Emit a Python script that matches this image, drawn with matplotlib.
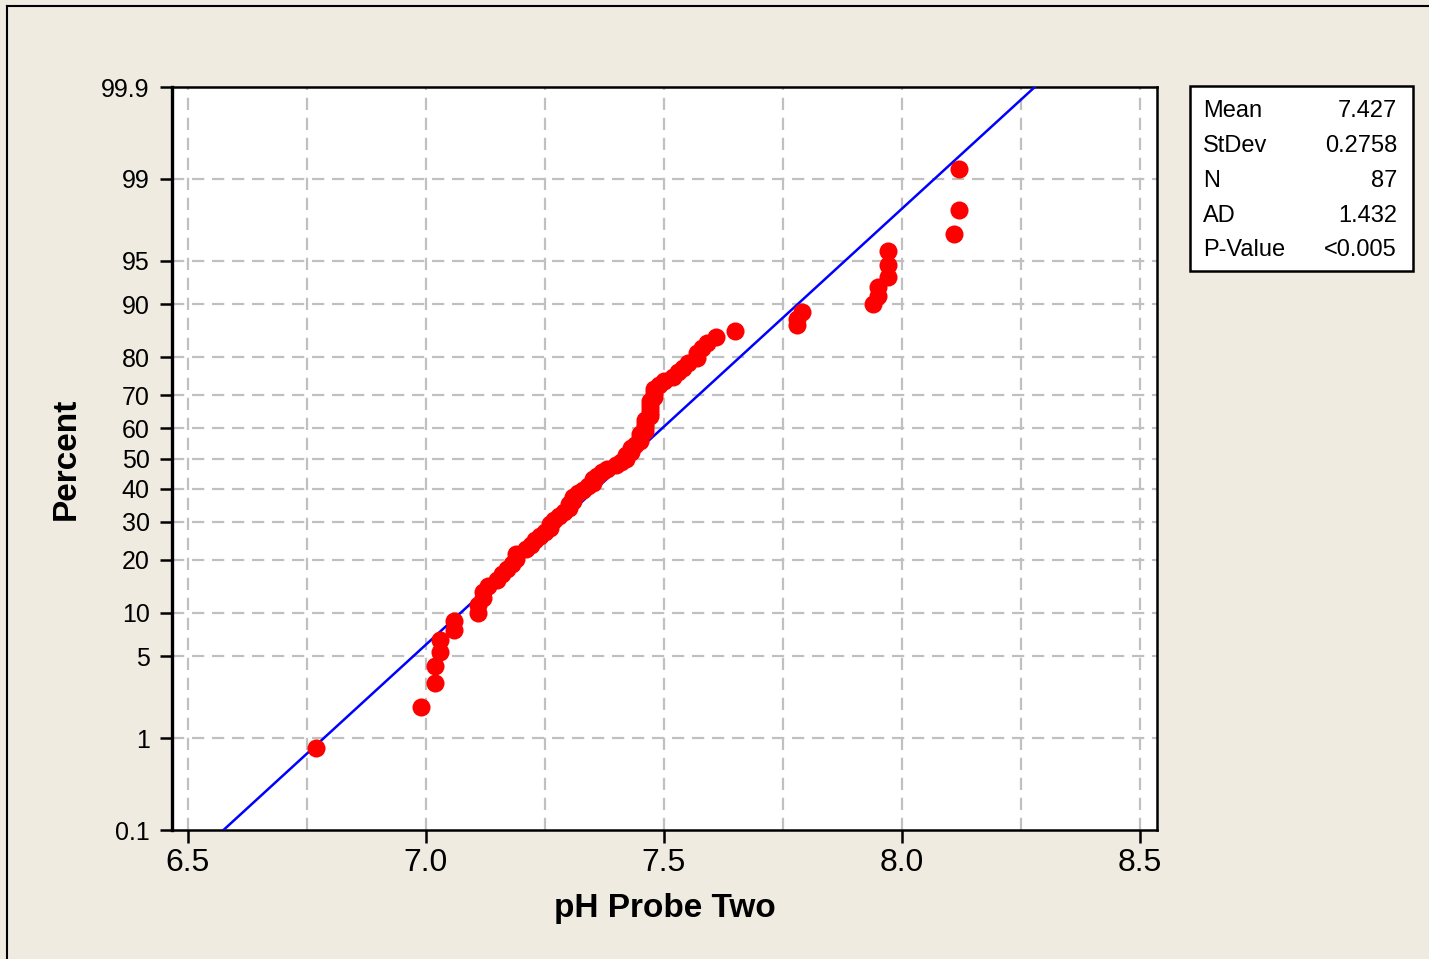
import math
import numpy as np
import matplotlib
matplotlib.use('Agg')
import matplotlib.pyplot as plt
from matplotlib.lines import Line2D
from matplotlib.patches import Rectangle

plt.rcParams['font.family'] = ['Liberation Sans', 'DejaVu Sans']

# pH readings (probe two), sorted
ph_values = [
    6.77, 6.99, 7.02, 7.02, 7.03, 7.03, 7.06, 7.06, 7.11, 7.11,
    7.12, 7.12, 7.13, 7.15, 7.16, 7.17, 7.18, 7.19, 7.19, 7.21,
    7.22, 7.23, 7.24, 7.25, 7.26, 7.26, 7.27, 7.28, 7.29, 7.30,
    7.30, 7.31, 7.31, 7.32, 7.33, 7.34, 7.35, 7.35, 7.36, 7.37,
    7.38, 7.40, 7.41, 7.42, 7.42, 7.43, 7.43, 7.44, 7.45, 7.45,
    7.45, 7.46, 7.46, 7.46, 7.46, 7.47, 7.47, 7.47, 7.47, 7.47,
    7.48, 7.48, 7.48, 7.49, 7.50, 7.52, 7.53, 7.54, 7.55, 7.57,
    7.57, 7.58, 7.59, 7.61, 7.65, 7.78, 7.78, 7.79, 7.94, 7.95,
    7.95, 7.97, 7.97, 7.97, 8.11, 8.12, 8.12,
]

fit_mean = 7.427
fit_sd = 0.2758

stat_names = ['Mean', 'StDev', 'N', 'AD', 'P-Value']
stat_values = ['7.427', '0.2758', '87', '1.432', '<0.005']

pct_ticks = [0.1, 1, 5, 10, 20, 30, 40, 50, 60, 70, 80, 90, 95, 99, 99.9]
pct_labels = ['0.1', '1', '5', '10', '20', '30', '40', '50', '60', '70', '80', '90', '95', '99', '99.9']
x_ticks = [6.5, 7.0, 7.5, 8.0, 8.5]
x_labels = ['6.5', '7.0', '7.5', '8.0', '8.5']


def norm_ppf(p):
    # Acklam's rational approximation of the inverse normal cdf
    p = np.clip(np.asarray(p, dtype=float), 1e-12, 1 - 1e-12)
    a = [-3.969683028665376e+01, 2.209460984245205e+02, -2.759285104469687e+02,
         1.383577518672690e+02, -3.066479806614716e+01, 2.506628277459239e+00]
    b = [-5.447609879822406e+01, 1.615858368580409e+02, -1.556989798598866e+02,
         6.680131188771972e+01, -1.328068155288572e+01]
    c = [-7.784894002430293e-03, -3.223964580411365e-01, -2.400758277161838e+00,
         -2.549732539343734e+00, 4.374664141464968e+00, 2.938163982698783e+00]
    d = [7.784695709041462e-03, 3.224671290700398e-01, 2.445134137142996e+00,
         3.754408661907416e+00]
    plow = 0.02425
    out = np.zeros_like(p)
    lo = p < plow
    hi = p > 1 - plow
    mid = ~(lo | hi)
    q = np.sqrt(-2 * np.log(p[lo]))
    out[lo] = (((((c[0]*q+c[1])*q+c[2])*q+c[3])*q+c[4])*q+c[5]) / \
              ((((d[0]*q+d[1])*q+d[2])*q+d[3])*q+1)
    q = p[mid] - 0.5
    r = q * q
    out[mid] = (((((a[0]*r+a[1])*r+a[2])*r+a[3])*r+a[4])*r+a[5])*q / \
               (((((b[0]*r+b[1])*r+b[2])*r+b[3])*r+b[4])*r+1)
    q = np.sqrt(-2 * np.log(1 - p[hi]))
    out[hi] = -(((((c[0]*q+c[1])*q+c[2])*q+c[3])*q+c[4])*q+c[5]) / \
               ((((d[0]*q+d[1])*q+d[2])*q+d[3])*q+1)
    return out


_erf = np.vectorize(math.erf)


def pct_to_z(pct):
    return norm_ppf(np.asarray(pct, dtype=float) / 100.0)


def z_to_pct(z):
    return 50.0 * (1 + _erf(np.asarray(z, dtype=float) / math.sqrt(2)))


n = len(ph_values)
ranks = np.arange(1, n + 1)
percents = (ranks - 0.3) / (n + 0.4) * 100   # median ranks

bg = '#EFEBE1'
fig = plt.figure(figsize=(14.29, 9.59), dpi=100, facecolor=bg)
ax = fig.add_axes([172/1429, 1 - 830/959, (1157-172)/1429, (830-87)/959])
ax.set_facecolor('white')
ax.set_yscale('function', functions=(pct_to_z, z_to_pct))

# fitted normal line
xx = np.linspace(6.4, 8.6, 400)
ax.plot(xx, z_to_pct((xx - fit_mean) / fit_sd), color='#0000FF', lw=1.8, zorder=3)

ax.plot(ph_values, percents, 'o', color='#FF0000', ms=13, mec='none', zorder=4)

ax.set_xlim(6.4665, 8.536)
ax.set_ylim(0.1, 99.9)

ax.set_yticks(pct_ticks)
ax.set_yticklabels(pct_labels)
ax.set_yticks([], minor=True)
ax.set_xticks(x_ticks)
ax.set_xticklabels(x_labels)

ax.tick_params(axis='y', which='major', direction='out', length=9, width=1.8,
               labelsize=18, pad=7)
ax.tick_params(axis='x', which='major', direction='out', length=9, width=1.8,
               labelsize=23, pad=4)

for v in np.arange(6.5, 8.51, 0.25):
    ax.axvline(v, color='#C0C0C0', lw=1.6, ls=(0, (5.5, 3.5)), zorder=1)
for p in pct_ticks[1:-1]:
    ax.axhline(p, color='#C0C0C0', lw=1.6, ls=(0, (5.5, 3.5)), zorder=1)

for s in ax.spines.values():
    s.set_linewidth(1.8)
    s.set_color('black')
ax.spines['left'].set_linewidth(2.4)

ax.set_xlabel('pH Probe Two', fontsize=24, fontweight='bold', labelpad=11)
ax.set_ylabel('Percent', fontsize=24, fontweight='bold', labelpad=14)

# stats box
fig.add_artist(Rectangle((1190/1429, 1 - 271/959), 223/1429, 185/959,
                         transform=fig.transFigure, facecolor='white',
                         edgecolor='black', lw=1.8))
row_y = [111, 146, 181, 216, 250]
for name, val, y in zip(stat_names, stat_values, row_y):
    fig.text(1203/1429, 1 - y/959, name, fontsize=17, ha='left', va='center')
    fig.text(1397/1429, 1 - y/959, val, fontsize=17, ha='right', va='center')

# outer frame
fig.add_artist(Line2D([7/1429, 1], [1 - 6/959, 1 - 6/959], transform=fig.transFigure,
                      color='black', lw=1.5))
fig.add_artist(Line2D([7/1429, 7/1429], [0, 1 - 6/959], transform=fig.transFigure,
                      color='black', lw=1.5))

fig.savefig('out.png', dpi=100, facecolor=bg)
